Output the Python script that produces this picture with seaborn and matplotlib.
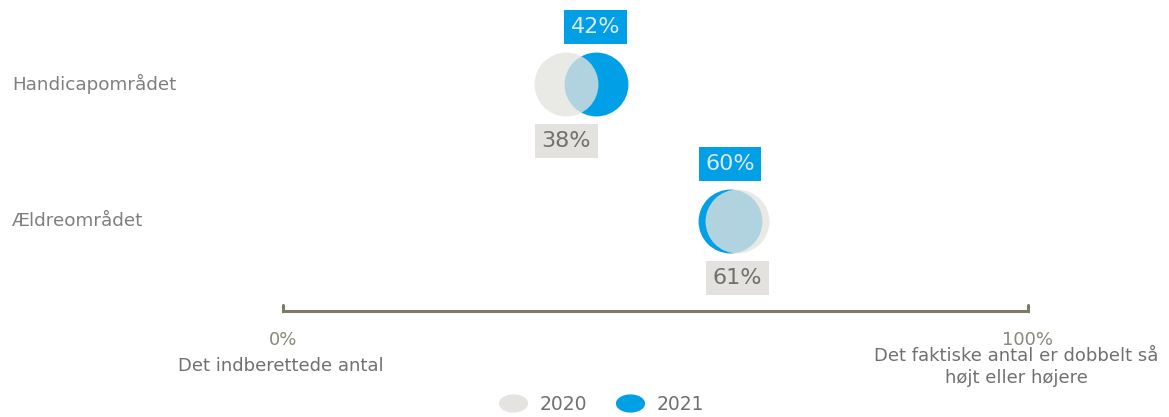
import numpy as np
import pandas as pd
import matplotlib.pyplot as plt
import seaborn as sns
from matplotlib.lines import Line2D
from matplotlib.path import Path

# data
omraader = ['Handicapområdet', 'Ældreområdet']
vaerdi_2020 = [38, 61]
vaerdi_2021 = [42, 60]

df = pd.DataFrame({
    'omraade': omraader * 2,
    'pos': [0, 1] * 2,
    'aar': ['2020'] * 2 + ['2021'] * 2,
    'pct': vaerdi_2020 + vaerdi_2021,
})

graa = '#e4e3df'
blaa = '#009fe6'

sns.set_style('white')
plt.rcParams['font.family'] = ['DejaVu Sans']

fig = plt.figure(figsize=(11.69, 4.17), dpi=100)
ax = fig.add_axes([0, 0, 1, 1])

# 2021 first, 2020 on top (semi transparent)
sns.scatterplot(data=df[df['aar'] == '2021'], x='pct', y='pos', color=blaa,
                s=2116, linewidth=0, ax=ax, legend=False, zorder=2)
sns.scatterplot(data=df[df['aar'] == '2020'], x='pct', y='pos', color=graa,
                s=2116, linewidth=0, alpha=0.78, ax=ax, legend=False, zorder=3)

# pixel mapping: 0% -> 283px, 100% -> 1028px ; rows at 84px and 221px
ppu = 7.45
ax.set_xlim(-283 / ppu, (1169 - 283) / ppu)
rpu = 137
ax.set_ylim((417 - 84) / rpu, -84 / rpu)
ax.axis('off')

# value labels
for i, (v20, v21) in enumerate(zip(vaerdi_2020, vaerdi_2021)):
    ax.annotate(f'{v21}%', (v21, i), xytext=(0, 41), textcoords='offset points',
                ha='center', va='center', fontsize=16, color='#d9e8f1',
                bbox=dict(boxstyle='square,pad=0.3', fc=blaa, ec='none'), zorder=5)
    ax.annotate(f'{v20}%', (v20, i), xytext=(0, -41), textcoords='offset points',
                ha='center', va='center', fontsize=16, color='#707070',
                bbox=dict(boxstyle='square,pad=0.3', fc='#e3e2de', ec='none'), zorder=5)

# category labels
for i, navn in enumerate(omraader):
    ax.text(-271 / ppu, i, navn, ha='left', va='center', fontsize=13.2, color='#7f7f7f')

# bracket axis
ya = (311 - 84) / rpu
tk = 6 / rpu
ax.plot([0, 0, 100, 100], [ya - tk, ya, ya, ya - tk], color='#7c7a66', lw=2.2,
        solid_joinstyle='miter', zorder=1)
yt = (340 - 84) / rpu
ax.text(0, yt, '0%', ha='center', va='center', fontsize=13, color='#8a8878')
ax.text(100, yt, '100%', ha='center', va='center', fontsize=13, color='#8a8878')
ax.text(-0.3, (366 - 84) / rpu, 'Det indberettede antal', ha='center', va='center',
        fontsize=13, color='#707070')
ax.text(98.4, (367 - 84) / rpu, 'Det faktiske antal er dobbelt så\nhøjt eller højere',
        ha='center', va='center', fontsize=13, color='#707070', linespacing=1.35)

# legend (flattened ellipse markers)
t = np.linspace(0, 2 * np.pi, 60)
ellipse = Path(np.column_stack([1.6 * np.cos(t), np.sin(t)]), closed=True)
handles = [Line2D([], [], marker=ellipse, ls='', ms=21, mfc=graa, mec='none', label='2020'),
           Line2D([], [], marker=ellipse, ls='', ms=21, mfc=blaa, mec='none', label='2021')]
leg = fig.legend(handles=handles, loc='center', ncol=2, frameon=False,
                 bbox_to_anchor=(602 / 1169, 1 - 404 / 417), fontsize=13.5,
                 handletextpad=0.7, columnspacing=1.6, handlelength=1.4)
for txt in leg.get_texts():
    txt.set_color('#707070')

fig.savefig('out.png', dpi=100)
